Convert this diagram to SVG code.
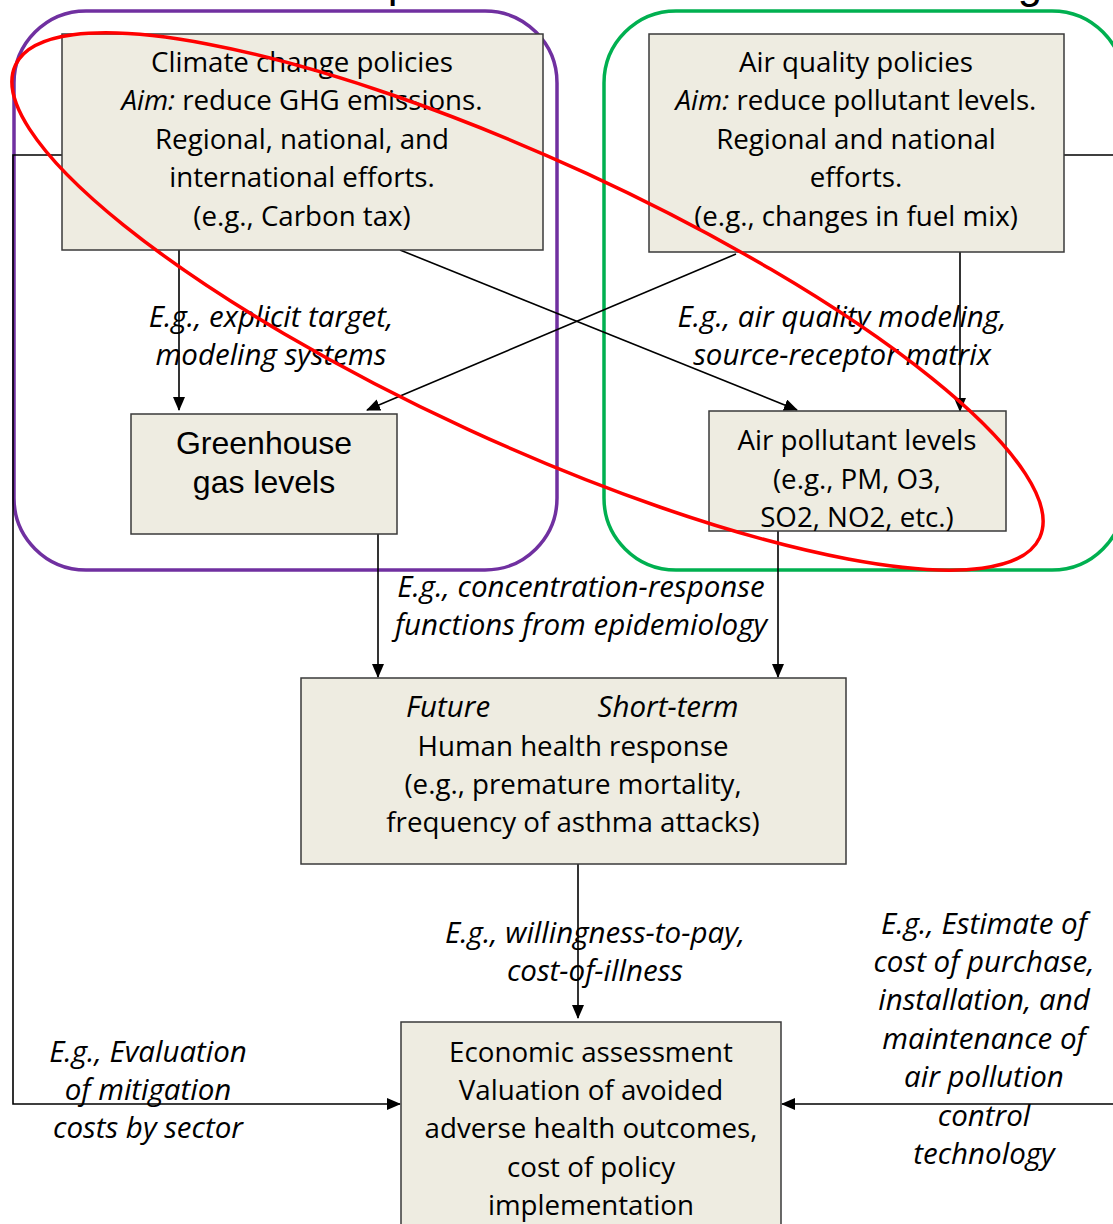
<svg xmlns="http://www.w3.org/2000/svg" width="1113" height="1224" viewBox="0 0 1113 1224">
<style>
.box{fill:#EEECE1;stroke:#3a3a3a;stroke-width:1.5}
.t{font-family:"Open Sans","Noto Sans",sans-serif;font-size:27.7px;fill:#000;text-anchor:middle}
.i{font-family:"Open Sans","Noto Sans",sans-serif;font-size:29.5px;fill:#000;text-anchor:middle;font-style:italic}
.a{font-family:"Liberation Sans",Arial,sans-serif;font-size:32px;fill:#000;text-anchor:middle}
.ln{fill:none;stroke:#000;stroke-width:1.6}
</style>
<defs>
<marker id="ah" markerWidth="14" markerHeight="12" refX="13" refY="6" orient="auto" markerUnits="userSpaceOnUse">
<path d="M0,0 L14,6 L0,12 z" fill="#000"/>
</marker>
</defs>
<rect width="1113" height="1224" fill="#fff"/>
<g id="title">
<text x="400" y="-3" font-family="Liberation Sans,Arial,sans-serif" font-size="44" text-anchor="middle">p</text>
<text x="1030" y="-2" font-family="Liberation Sans,Arial,sans-serif" font-size="44" text-anchor="middle">g</text>
</g>
<g id="group-climate"><rect x="14" y="11" width="543" height="559" rx="72" fill="none" stroke="#7030A0" stroke-width="3.5"/></g>
<g id="group-air"><rect x="604" y="11" width="520" height="559" rx="72" fill="none" stroke="#00B050" stroke-width="3.5"/></g>
<g id="connectors">
<path class="ln" d="M179,250 L179,410" marker-end="url(#ah)"/>
<path class="ln" d="M400,250 L797,410" marker-end="url(#ah)"/>
<path class="ln" d="M736,254 L367,410" marker-end="url(#ah)"/>
<path class="ln" d="M960,252 L960,411" marker-end="url(#ah)"/>
<path class="ln" d="M378,534 L378,677" marker-end="url(#ah)"/>
<path class="ln" d="M778,531 L778,677" marker-end="url(#ah)"/>
<path class="ln" d="M578,864 L578,1018" marker-end="url(#ah)"/>
<path class="ln" d="M62,155 L13,155 L13,1104 L400,1104" marker-end="url(#ah)"/>
<path class="ln" d="M1064,155 L1118,155 L1118,1104 L782,1104" marker-end="url(#ah)"/>
<text class="i" x="271" y="327">E.g., explicit target,</text>
<text class="i" x="271" y="365">modeling systems</text>
<text class="i" x="842" y="327">E.g., air quality modeling,</text>
<text class="i" x="842" y="365">source-receptor matrix</text>
<text class="i" x="581" y="597">E.g., concentration-response</text>
<text class="i" x="581" y="635">functions from epidemiology</text>
<text class="i" x="595" y="943">E.g., willingness-to-pay,</text>
<text class="i" x="595" y="981">cost-of-illness</text>
<text class="i" x="148" y="1062">E.g., Evaluation</text>
<text class="i" x="148" y="1100">of mitigation</text>
<text class="i" x="148" y="1138">costs by sector</text>
<text class="i" x="984" y="934">E.g., Estimate of</text>
<text class="i" x="984" y="972">cost of purchase,</text>
<text class="i" x="984" y="1010">installation, and</text>
<text class="i" x="984" y="1049">maintenance of</text>
<text class="i" x="984" y="1087">air pollution</text>
<text class="i" x="984" y="1126">control</text>
<text class="i" x="984" y="1164">technology</text>
</g>
<g id="climate-policies">
<rect class="box" x="62" y="34" width="481" height="216"/>
<text class="t" x="302" y="72">Climate change policies</text>
<text class="t" x="302" y="110"><tspan font-style="italic">Aim:</tspan> reduce GHG emissions.</text>
<text class="t" x="302" y="149">Regional, national, and</text>
<text class="t" x="302" y="187">international efforts.</text>
<text class="t" x="302" y="226">(e.g., Carbon tax)</text>
</g>
<g id="air-quality-policies">
<rect class="box" x="649" y="34" width="415" height="218"/>
<text class="t" x="856" y="72">Air quality policies</text>
<text class="t" x="856" y="110"><tspan font-style="italic">Aim:</tspan> reduce pollutant levels.</text>
<text class="t" x="856" y="149">Regional and national</text>
<text class="t" x="856" y="187">efforts.</text>
<text class="t" x="856" y="226">(e.g., changes in fuel mix)</text>
</g>
<g id="ghg-levels">
<rect class="box" x="131" y="414" width="266" height="120"/>
<text class="a" x="264" y="454">Greenhouse</text>
<text class="a" x="264" y="493">gas levels</text>
</g>
<g id="air-pollutant-levels">
<rect class="box" x="709" y="411" width="297" height="120"/>
<text class="t" x="857" y="450">Air pollutant levels</text>
<text class="t" x="857" y="489">(e.g., PM, O3,</text>
<text class="t" x="857" y="527">SO2, NO2, etc.)</text>
</g>
<g id="health-response">
<rect class="box" x="301" y="678" width="545" height="186"/>
<text class="i" x="448" y="717">Future</text>
<text class="i" x="668" y="717">Short-term</text>
<text class="t" x="573" y="756">Human health response</text>
<text class="t" x="573" y="794">(e.g., premature mortality,</text>
<text class="t" x="573" y="832">frequency of asthma attacks)</text>
</g>
<g id="economic-assessment">
<rect class="box" x="401" y="1022" width="380" height="215"/>
<text class="t" x="591" y="1062">Economic assessment</text>
<text class="t" x="591" y="1100">Valuation of avoided</text>
<text class="t" x="591" y="1138">adverse health outcomes,</text>
<text class="t" x="591" y="1177">cost of policy</text>
<text class="t" x="591" y="1215">implementation</text>
</g>
<g id="overlap-highlight">
<ellipse cx="527.5" cy="301.5" rx="564" ry="141" transform="rotate(24.75 527.5 301.5)" fill="none" stroke="#FF0000" stroke-width="3.5"/>
</g>
</svg>
